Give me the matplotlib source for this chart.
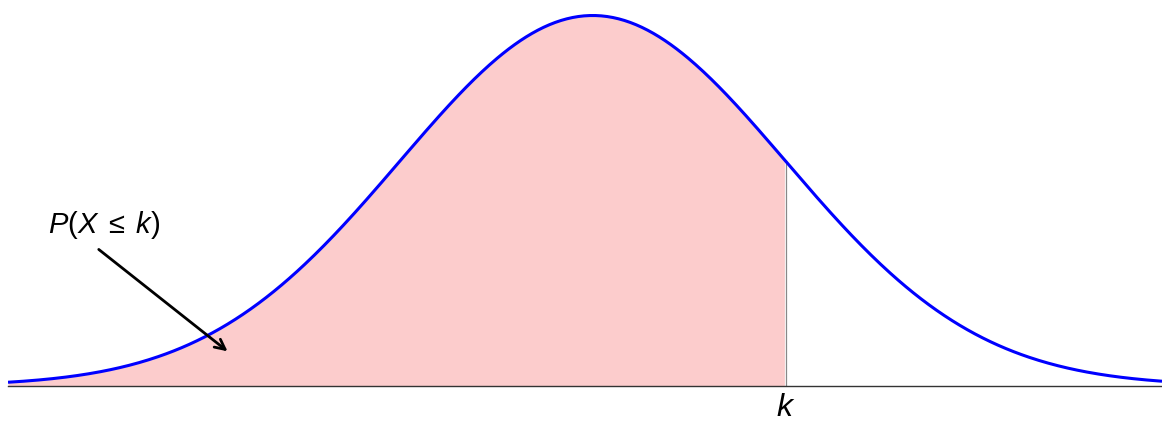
import numpy as np
import matplotlib
matplotlib.use("Agg")
import matplotlib.pyplot as plt

plt.rcParams['mathtext.fontset'] = 'custom'
plt.rcParams['mathtext.it'] = 'Liberation Sans:italic'
plt.rcParams['mathtext.rm'] = 'Liberation Sans'
plt.rcParams['font.family'] = ['Liberation Sans', 'DejaVu Sans']

# distribution parameters
mu = 0.0
sigma = 1.0
k = 1.0
x_lo, x_hi = -3.03, 2.95
label_text = r'$P(X\;\leq\;k)$'
k_label = r'$k$'

x = np.linspace(x_lo, x_hi, 600)
pdf = np.exp(-0.5 * ((x - mu) / sigma) ** 2) / (sigma * np.sqrt(2 * np.pi))
peak = 1 / (sigma * np.sqrt(2 * np.pi))

fig = plt.figure(figsize=(11.62, 4.23), dpi=100)
ax = fig.add_axes([8 / 1162, 37 / 423, 1 - 8 / 1162, 386 / 423])

mask = x <= k
ax.fill_between(x[mask], 0, pdf[mask], color='#fccccc', lw=0)
pdf_k = np.exp(-0.5 * ((k - mu) / sigma) ** 2) / (sigma * np.sqrt(2 * np.pi))
ax.plot([k, k], [0, pdf_k], color='#888888', lw=0.9)
ax.plot(x, pdf, color='#0000ff', lw=2.2, solid_capstyle='butt')
ax.axhline(0, color='#333333', lw=1.0, clip_on=False, zorder=5)

ax.set_xlim(x_lo, x_hi)
ax.set_ylim(0, peak * 386 / 370.5)
ax.axis('off')

ax.annotate('', xy=(-1.881, 0.0355), xytext=(-2.571, 0.1489),
            arrowprops=dict(arrowstyle='->', color='black', lw=2.0,
                            mutation_scale=18))
ax.text(-2.53, 0.1734, label_text, fontsize=21, ha='center', va='center')
ax.text(k, -0.024, k_label, fontsize=23, ha='center', va='center',
        clip_on=False)

plt.savefig('out.png', dpi=100)
